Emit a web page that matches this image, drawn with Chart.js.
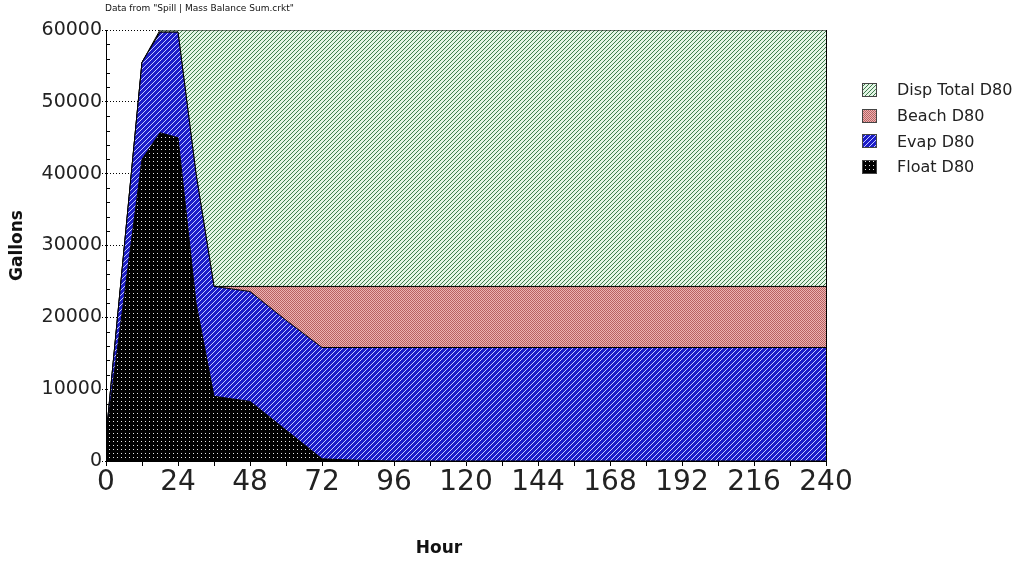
<!DOCTYPE html>
<html>
<head>
<meta charset="utf-8">
<title>Mass Balance D80</title>
<script src="https://cdn.jsdelivr.net/npm/chart.js@4.4.1/dist/chart.umd.min.js"></script>
<style>
    html, body { margin: 0; padding: 0; background: #fff; }
    #wrap { position: relative; width: 1021px; height: 562px; }
</style>
</head>
<body>
<div id="wrap"><canvas id="chart"></canvas></div>
<script>
// =====================================
// DATA
// =====================================
const hours     = [0, 12, 18, 24, 30, 36, 48, 60, 72, 84, 96, 120, 144, 168, 192, 216, 240];
const floatD80  = [3300, 42000, 45700, 45000, 22000, 9000, 8300, 4300, 300, 100, 0, 0, 0, 0, 0, 0, 0];
const evapD80   = [0, 13500, 14000, 14700, 18000, 15300, 15300, 15300, 15500, 15700, 15800, 15800, 15800, 15800, 15800, 15800, 15800];
const beachD80  = [0, 0, 0, 0, 0, 0, 700, 4700, 8500, 8500, 8500, 8500, 8500, 8500, 8500, 8500, 8500];
const dispD80   = [0, 0, 300, 300, 20000, 35700, 35700, 35700, 35700, 35700, 35700, 35700, 35700, 35700, 35700, 35700, 35700];

const seriesNames = ["Float D80", "Evap D80", "Beach D80", "Disp Total D80"];
const noteText = 'Data from "Spill | Mass Balance Sum.crkt"';

const FONT = '"DejaVu Sans", sans-serif';
Chart.defaults.font.family = FONT;

// =====================================
// FILL PATTERNS
// =====================================
function makePattern(size, bg, fg, test) {
    const c = document.createElement("canvas");
    c.width = size;
    c.height = size;
    const g = c.getContext("2d");
    g.fillStyle = bg;
    g.fillRect(0, 0, size, size);
    g.fillStyle = fg;
    for (let y = 0; y < size; y++) {
        for (let x = 0; x < size; x++) {
            if (test(x, y)) g.fillRect(x, y, 1, 1);
        }
    }
    return g.createPattern(c, "repeat");
}

const PATTERNS = {
    float: makePattern(4, "#000000", "#e8e8e8", (x, y) => x === 1 && y === 1),
    evap:  makePattern(5, "#1c1cc8", "#c4ccff", (x, y) => (x + y) % 5 === 0),
    beach: makePattern(2, "#ecb2b2", "#b86262", (x, y) => (x + y) % 2 === 0),
    disp:  makePattern(4, "#e4f5e6", "#3f7d4c", (x, y) => (x + y) % 4 === 0)
};

function pts(values) {
    return hours.map((h, i) => ({ x: h, y: values[i] }));
}

// =====================================
// EXTRA DRAWING: minor ticks, note, legend, x title
// =====================================
const decor = {
    id: "decor",
    afterDatasetsDraw(chart) {
        const { ctx, chartArea, scales } = chart;
        ctx.save();
        ctx.strokeStyle = "#000";
        ctx.lineWidth = 1;
        ctx.beginPath();
        for (let v = 2000; v < 60000; v += 2000) {
            if (v % 10000 === 0) continue;
            const y = Math.round(scales.y.getPixelForValue(v)) + 0.5;
            ctx.moveTo(chartArea.left, y);
            ctx.lineTo(chartArea.left + 4, y);
        }
        ctx.stroke();
        ctx.restore();
    },
    afterDraw(chart) {
        const { ctx, chartArea } = chart;
        ctx.save();

        // note at the top
        ctx.fillStyle = "#111";
        ctx.font = "9px " + FONT;
        ctx.textBaseline = "middle";
        ctx.textAlign = "left";
        ctx.fillText(noteText, chartArea.left - 1, 9);

        // legend (top entry = top of the stack)
        const legendItems = [
            { label: seriesNames[3], fill: PATTERNS.disp },
            { label: seriesNames[2], fill: PATTERNS.beach },
            { label: seriesNames[1], fill: PATTERNS.evap },
            { label: seriesNames[0], fill: PATTERNS.float }
        ];
        const bx = chartArea.right + 36;
        ctx.font = "16px " + FONT;
        legendItems.forEach((it, i) => {
            const cy = 90 + i * 25.7;
            ctx.fillStyle = it.fill;
            ctx.fillRect(bx, Math.round(cy - 7), 15, 14);
            ctx.strokeStyle = "#444";
            ctx.lineWidth = 1;
            ctx.strokeRect(bx + 0.5, Math.round(cy - 7) + 0.5, 14, 13);
            ctx.fillStyle = "#222";
            ctx.fillText(it.label, bx + 35, cy + 1);
        });

        // x axis title
        ctx.font = "bold 17px " + FONT;
        ctx.textAlign = "center";
        ctx.fillStyle = "#111";
        ctx.fillText("Hour", 439, 549);

        ctx.restore();
    }
};

// =====================================
// CHART
// =====================================
const majorOnly = c => (c.tick && c.tick.value % 10000 === 0) ? "#000" : "rgba(0,0,0,0)";

new Chart(document.getElementById("chart").getContext("2d"), {
    type: "line",
    data: {
        datasets: [
            { label: seriesNames[0], data: pts(floatD80), backgroundColor: PATTERNS.float, fill: "origin" },
            { label: seriesNames[1], data: pts(evapD80),  backgroundColor: PATTERNS.evap,  fill: "-1" },
            { label: seriesNames[2], data: pts(beachD80), backgroundColor: PATTERNS.beach, fill: "-1" },
            { label: seriesNames[3], data: pts(dispD80),  backgroundColor: PATTERNS.disp,  fill: "-1" }
        ].map(d => Object.assign(d, {
            yAxisID: "y",
            borderColor: "#000",
            borderWidth: 1,
            pointRadius: 0,
            tension: 0
        }))
    },
    options: {
        responsive: true,
        maintainAspectRatio: false,
        animation: false,
        layout: { padding: { top: 30, right: 195, bottom: 0, left: 0 } },
        plugins: {
            legend: { display: false },
            tooltip: { enabled: false }
        },
        scales: {
            x: {
                type: "linear",
                min: 0,
                max: 240,
                afterFit: s => { s.height = 101; },
                ticks: {
                    stepSize: 12,
                    autoSkip: false,
                    maxRotation: 0,
                    padding: 0,
                    color: "#222",
                    font: { size: 28 },
                    callback: v => (v % 24 === 0 ? String(v) : "")
                },
                grid: { drawOnChartArea: false, drawTicks: true, tickLength: 5, tickColor: "#000" },
                border: { color: "#000", width: 1 }
            },
            y: {
                stacked: true,
                min: 0,
                max: 60000,
                afterFit: s => { s.width = 106; },
                ticks: {
                    stepSize: 2000,
                    autoSkip: false,
                    padding: 0,
                    color: "#222",
                    font: { size: 19 },
                    callback: v => (v % 10000 === 0 ? String(v) : "")
                },
                grid: {
                    color: majorOnly,
                    tickColor: majorOnly,
                    tickLength: 4,
                    tickBorderDash: [1, 2]
                },
                border: { color: "#000", width: 1, dash: [1, 2] },
                title: {
                    display: true,
                    text: "Gallons",
                    color: "#111",
                    font: { size: 17, weight: "bold" },
                    padding: { top: 7, bottom: 0 }
                }
            },
            y2: {
                position: "right",
                min: 0,
                max: 60000,
                afterFit: s => { s.width = 0; },
                ticks: { display: false },
                grid: { drawOnChartArea: false, drawTicks: false },
                border: { color: "#000", width: 1 }
            }
        }
    },
    plugins: [decor]
});
</script>
</body>
</html>
